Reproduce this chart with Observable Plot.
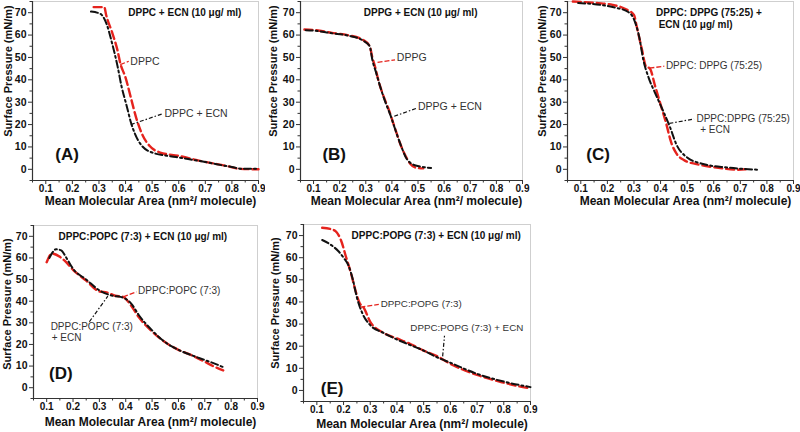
<!DOCTYPE html>
<html><head><meta charset="utf-8">
<script src="https://cdn.jsdelivr.net/npm/d3@7"></script>
<script src="https://cdn.jsdelivr.net/npm/@observablehq/plot@0.6"></script>
<style>
body{margin:0;background:#fff;}
#wrap{position:relative;width:800px;height:432px;overflow:hidden;}
#wrap svg{position:absolute;}
</style></head><body><div id="wrap"></div>
<script>
// ---- shared ticks ----
const xTicks = [0.1, 0.2, 0.3, 0.4, 0.5, 0.6, 0.7, 0.8, 0.9];
const xMinor = [0.05, 0.15, 0.25, 0.35, 0.45, 0.55, 0.65, 0.75, 0.85];
const yTicks = [0, 10, 20, 30, 40, 50, 60, 70];
const yMinor = [-5, 5, 15, 25, 35, 45, 55, 65, 75];
const xLabel = "Mean Molecular Area (nm²/ molecule)";
const yLabel = "Surface Pressure (mN/m)";

// ---- Panel A: DPPC + ECN ----
const aRedX = [0.28, 0.32, 0.327, 0.35, 0.37, 0.38, 0.4, 0.42, 0.44, 0.465, 0.49, 0.53, 0.6, 0.68, 0.78, 0.83, 0.9];
const aRedY = [72.5, 72.5, 69, 61, 53, 47.5, 41, 32, 23, 15, 10.5, 7.5, 6, 3.8, 1.5, 0.2, 0];
const aBlkX = [0.27, 0.305, 0.33, 0.35, 0.37, 0.385, 0.405, 0.42, 0.435, 0.455, 0.5, 0.59, 0.68, 0.8, 0.84, 0.9];
const aBlkY = [70.5, 69.5, 64.5, 56, 46, 37, 28, 21, 16, 11.5, 7.5, 5.5, 3.7, 1, 0.2, 0.2];
const aNotes = [["DPPC", 0.418, 48.3], ["DPPC + ECN", 0.546, 25]];
const aLeadRed = [[0.38, 46.8, 0.412, 48.3]];
const aLeadBlk = [[0.42, 20, 0.539, 24.8]];

// ---- Panel B: DPPG + ECN ----
const bRedX = [0.065, 0.1, 0.17, 0.23, 0.29, 0.315, 0.325, 0.335, 0.35, 0.37, 0.39, 0.41, 0.43, 0.45, 0.47, 0.49, 0.52];
const bRedY = [62.5, 62.3, 61, 60, 57.8, 55, 50, 46, 39, 32, 26, 19, 12, 6.5, 2.5, 0.8, 0.4];
const bBlkX = [0.07, 0.1, 0.17, 0.23, 0.29, 0.315, 0.325, 0.34, 0.355, 0.375, 0.395, 0.415, 0.435, 0.455, 0.48, 0.51, 0.55];
const bBlkY = [62.2, 62, 60.8, 59.8, 57.5, 55, 49, 43, 37, 30, 24, 17, 10.5, 5, 2.2, 1.2, 0.6];
const bNotes = [["DPPG", 0.419, 50.1], ["DPPG + ECN", 0.5, 27.8]];
const bLeadRed = [[0.345, 47.8, 0.412, 48.9]];
const bLeadBlk = [[0.409, 23.7, 0.497, 27.4]];

// ---- Panel C: DPPC:DPPG (75:25) + ECN ----
const cRedX = [0.07, 0.16, 0.22, 0.27, 0.3, 0.31, 0.33, 0.345, 0.36, 0.38, 0.4, 0.42, 0.44, 0.46, 0.49, 0.54, 0.61, 0.69, 0.72];
const cRedY = [75, 74.3, 73.5, 71.5, 69, 64, 53.5, 46, 45, 37, 29, 21, 12, 7, 4, 2.2, 0.8, -0.2, 0];
const cBlkX = [0.09, 0.16, 0.22, 0.28, 0.3, 0.32, 0.335, 0.355, 0.38, 0.41, 0.435, 0.46, 0.5, 0.56, 0.65, 0.77];
const cBlkY = [74.3, 73.7, 72.5, 70.2, 67, 59, 49, 41, 34, 26, 19, 11, 5.3, 2.4, 0.8, -0.2];
const cNotes = [["DPPC: DPPG (75:25)", 0.42, 46.4], ["DPPC:DPPG (75:25)", 0.535, 22.8], ["+ ECN", 0.549, 17.5]];
const cLeadRed = [[0.358, 45.2, 0.414, 46.1]];
const cLeadBlk = [[0.433, 20.5, 0.526, 22.5]];

// ---- Panel D: DPPC:POPC (7:3) + ECN ----
const dRedX = [0.1, 0.12, 0.15, 0.17, 0.2, 0.25, 0.3, 0.33, 0.36, 0.39, 0.42, 0.45, 0.5, 0.55, 0.6, 0.65, 0.7, 0.74, 0.77];
const dRedY = [58, 62, 60.5, 58.5, 54.5, 49.5, 44.5, 44, 42.5, 42, 38, 32.5, 26, 21, 17.5, 15, 12, 9.5, 8];
const dBlkX = [0.11, 0.125, 0.135, 0.155, 0.175, 0.2, 0.25, 0.3, 0.35, 0.38, 0.42, 0.45, 0.5, 0.55, 0.6, 0.65, 0.7, 0.74, 0.77];
const dBlkY = [60, 63, 64, 63.5, 60, 55, 50, 45, 42.5, 42, 39, 33.5, 26.5, 21, 17.5, 15, 12.8, 11, 9.5];
const dNotes = [["DPPC:POPC (7:3)", 0.447, 44.8], ["DPPC:POPC (7:3)", 0.115, 28.2], ["+ ECN", 0.119, 23.3]];
const dLeadRed = [[0.39, 42, 0.441, 44.3]];
const dLeadBlk = [[0.262, 30.5, 0.332, 42.3]];

// ---- Panel E: DPPC:POPG (7:3) + ECN ----
const eRedX = [0.12, 0.15, 0.17, 0.19, 0.21, 0.23, 0.245, 0.26, 0.275, 0.3, 0.35, 0.4, 0.45, 0.5, 0.55, 0.6, 0.7, 0.8, 0.85, 0.9];
const eRedY = [73.5, 73, 72, 68, 60, 52, 45, 39.5, 37.5, 31, 26, 23.5, 21, 18, 15.5, 12, 7, 3.5, 2, 1];
const eBlkX = [0.12, 0.15, 0.18, 0.2, 0.22, 0.235, 0.25, 0.27, 0.3, 0.35, 0.4, 0.45, 0.5, 0.55, 0.6, 0.7, 0.8, 0.9];
const eBlkY = [68, 66, 63, 60, 56, 50, 42, 35, 29.5, 26, 23, 20.5, 18, 15, 12.5, 7.5, 4, 1.5];
const eNotes = [["DPPC:POPG (7:3)", 0.339, 39], ["DPPC:POPG (7:3) + ECN", 0.45, 28.1]];
const eLeadRed = [[0.263, 37.6, 0.332, 38.9]];
const eLeadBlk = [[0.571, 15.4, 0.578, 24.7]];

// ---- titles & panel tags: [text, x, y, anchor] ----
const titles = {
  A: [["DPPC + ECN (10 μg/ ml)", 0.623, 70, "middle"]],
  B: [["DPPG + ECN (10 μg/ ml)", 0.51, 70, "middle"]],
  C: [["DPPC: DPPG (75:25) +", 0.383, 70, "start"], ["ECN (10 μg/ ml)", 0.393, 64.7, "start"]],
  D: [["DPPC:POPC (7:3) + ECN (10 μg/ ml)", 0.465, 70, "middle"]],
  E: [["DPPC:POPG (7:3) + ECN (10 μg/ ml)", 0.547, 70, "middle"]]
};
const tags = {A: ["(A)", 0.18, 6.8], B: ["(B)", 0.179, 6.4], C: ["(C)", 0.165, 6.8], D: ["(D)", 0.154, 6.6], E: ["(E)", 0.157, 0.8]};

const FONT = "'Liberation Sans', Arial, Helvetica, sans-serif";
const RED = "#e5231d", BLK = "#111";

const zip = (xs, ys) => xs.map((x, i) => ({x, y: ys[i]}));
const leads = arr => arr.map(([x1, y1, x2, y2]) => ({x1, y1, x2, y2}));

function panel(key, o) {
  const notes = o.notes.map(([t, x, y]) => ({t, x, y}));
  const titleMarks = titles[key].map(([t, x, y, a]) =>
    Plot.text([{t, x, y}], {x: "x", y: "y", text: "t", textAnchor: a, fontSize: 10, fontWeight: "bold", fill: "#111"}));
  const svg = Plot.plot({
    width: o.w, height: o.h,
    marginLeft: o.ml, marginRight: o.mr, marginTop: o.mt, marginBottom: o.mb,
    x: {domain: [0.05, 0.9]},
    y: {domain: [-5, 75]},
    style: {fontFamily: FONT, background: "transparent", color: "#111"},
    marks: [
      Plot.frame({stroke: "#cfcfcf"}),
      Plot.ruleX([0.05], {stroke: "#333", strokeWidth: 1.2}),
      Plot.ruleY([-5], {stroke: "#333", strokeWidth: 1.2}),
      Plot.axisX({ticks: xMinor, tickSize: 2.5, tickFormat: () => "", label: null, stroke: "#333"}),
      Plot.axisY({ticks: yMinor, tickSize: 2.5, tickFormat: () => "", label: null, stroke: "#333"}),
      Plot.axisX({ticks: xTicks, tickSize: 4, tickPadding: 0, tickFormat: d => d.toFixed(1), label: null,
        fontSize: 10, fontWeight: "bold", stroke: "#333"}),
      Plot.axisY({ticks: yTicks, tickSize: 4, tickPadding: 2, label: null,
        fontSize: 10.5, fontWeight: "bold", stroke: "#333"}),
      Plot.text([xLabel], {frameAnchor: "bottom", textAnchor: "middle", lineAnchor: "middle", dx: o.xdx, dy: o.xdy,
        fontSize: 12, fontWeight: "bold", fill: "#111"}),
      Plot.text([yLabel], {frameAnchor: "left", textAnchor: "middle", lineAnchor: "middle", rotate: -90, dx: o.ydx, dy: o.ydy,
        fontSize: 11, fontWeight: "bold", fill: "#111"}),
      Plot.line(zip(o.rx, o.ry), {x: "x", y: "y", stroke: RED, strokeWidth: 2.4, strokeDasharray: "8,4", curve: "monotone-x"}),
      Plot.line(zip(o.bx, o.by), {x: "x", y: "y", stroke: BLK, strokeWidth: 2, strokeDasharray: "7,3,2,3", curve: "monotone-x"}),
      Plot.link(leads(o.lr), {x1: "x1", y1: "y1", x2: "x2", y2: "y2", stroke: RED, strokeWidth: 1.3, strokeDasharray: "5,2"}),
      Plot.link(leads(o.lb), {x1: "x1", y1: "y1", x2: "x2", y2: "y2", stroke: BLK, strokeWidth: 1.2, strokeDasharray: "4,2,1.5,2"}),
      Plot.text(notes, {x: "x", y: "y", text: "t", textAnchor: "start", fontSize: o.nfs || 10.5, fill: "#333"}),
      ...titleMarks,
      Plot.text([tags[key]], {x: d => d[1], y: d => d[2], text: d => d[0], fontSize: 17, fontWeight: "bold", fill: "#111"})
    ]
  });
  svg.style.left = o.left + "px";
  svg.style.top = o.top + "px";
  document.getElementById("wrap").appendChild(svg);
}

const base = {w: 265, h: 212, mt: 1, mb: 32, xdy: 21};
panel("A", {...base, left: 0, top: 0, ml: 32, mr: 7, xdx: 5, ydx: -24, ydy: -20,
  rx: aRedX, ry: aRedY, bx: aBlkX, by: aBlkY, notes: aNotes, lr: aLeadRed, lb: aLeadBlk});
panel("B", {...base, left: 265, top: 0, ml: 35, mr: 8, xdx: 5, ydx: -27, ydy: -20,
  rx: bRedX, ry: bRedY, bx: bBlkX, by: bBlkY, notes: bNotes, lr: bLeadRed, lb: bLeadBlk});
panel("C", {...base, w: 270, left: 530, top: 0, ml: 37, mr: 7, xdx: 5, ydx: -25, ydy: -20, nfs: 10,
  rx: cRedX, ry: cRedY, bx: cBlkX, by: cBlkY, notes: cNotes, lr: cLeadRed, lb: cLeadBlk});
panel("D", {w: 265, h: 210, left: 0, top: 222, ml: 33, mr: 8, mt: 3, mb: 34, xdx: 5, xdy: 24, ydx: -26, ydy: -8, nfs: 10,
  rx: dRedX, ry: dRedY, bx: dBlkX, by: dBlkY, notes: dNotes, lr: dLeadRed, lb: dLeadBlk});
panel("E", {w: 275, h: 210, left: 265, top: 222, ml: 38, mr: 10, mt: 2, mb: 31, xdx: 5, xdy: 23, ydx: -28, ydy: -10, nfs: 9.8,
  rx: eRedX, ry: eRedY, bx: eBlkX, by: eBlkY, notes: eNotes, lr: eLeadRed, lb: eLeadBlk});
</script>
</body></html>
